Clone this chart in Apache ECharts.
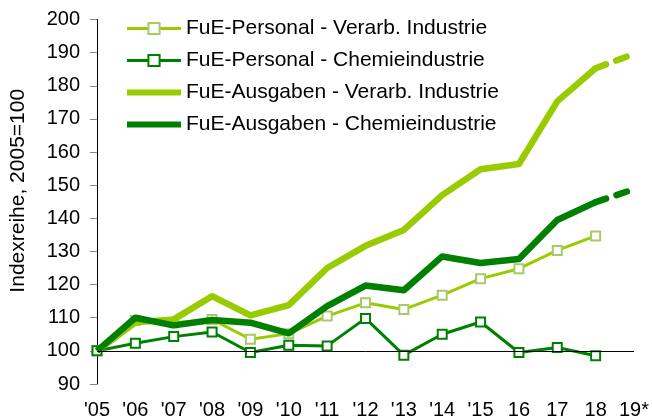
<!DOCTYPE html>
<html>
<head>
<meta charset="utf-8">
<script src="https://cdn.jsdelivr.net/npm/echarts@6/dist/echarts.min.js"></script>
<style>
html, body { margin: 0; padding: 0; background: #fff; }
#chart { width: 652px; height: 420px; }
</style>
</head>
<body>
<div id="chart"></div>
<script>
// Jahre / Achsenbeschriftung
var years = ["'05", "'06", "'07", "'08", "'09", "'10", "'11", "'12", "'13", "'14", "'15", "16", "17", "18", "19*"];

// Indexwerte, 2005 = 100
var personalVerarb = [100, 109.2, 108.5, 109.5, 103.5, 105.2, 110.5, 114.5, 112.5, 116.8, 121.8, 124.8, 130.3, 134.7, null];
var personalChemie = [100, 102.3, 104.3, 105.7, 99.5, 101.7, 101.5, 109.8, 98.7, 105, 108.7, 99.5, 101, 98.5, null];
var ausgabenVerarb = [100, 108.6, 109.5, 116.5, 110.7, 113.8, 125, 131.7, 136.5, 147, 154.8, 156.4, 175.3, 185.3, 189.6];
var ausgabenChemie = [100, 110, 107.7, 109.3, 108.5, 105.3, 113.5, 119.7, 118.3, 128.5, 126.5, 127.7, 139.5, 144.9, 148.8];

var names = [
	'FuE-Personal - Verarb. Industrie',
	'FuE-Personal - Chemieindustrie',
	'FuE-Ausgaben - Verarb. Industrie',
	'FuE-Ausgaben - Chemieindustrie'
];

var hellgruen = '#99cc00';
var dunkelgruen = '#008000';
var font = 'Liberation Sans, Arial, sans-serif';

//solider Teil bis 2018, gestrichelt 2018-2019
function solidPart(arr) {
	var res = arr.slice();
	res[res.length - 1] = null;
	return res;
}
function dashPart(arr) {
	var res = [];
	for (var i = 0; i < arr.length; i++) {
		res.push(i >= arr.length - 2 ? arr[i] : null);
	}
	return res;
}

var chart = echarts.init(document.getElementById('chart'));

var option = {
	animation: false,
	textStyle: { fontFamily: font },
	grid: {
		left: 93,
		right: 15,
		top: 19.5,
		bottom: 35.5
	},
	legend: {
		orient: 'vertical',
		left: 119,
		top: 13,
		itemWidth: 54,
		itemHeight: 14,
		itemGap: 11,
		textStyle: { fontSize: 21, color: '#000', fontFamily: font },
		data: [
			{ name: names[0], lineStyle: { width: 3 }, itemStyle: { color: '#fff', borderColor: '#a8c86a', borderWidth: 2 } },
			{ name: names[1], lineStyle: { width: 3 }, itemStyle: { color: '#fff', borderColor: dunkelgruen, borderWidth: 2 } },
			{ name: names[2], lineStyle: { width: 6 }, itemStyle: { opacity: 0 } },
			{ name: names[3], lineStyle: { width: 6 }, itemStyle: { opacity: 0 } }
		]
	},
	xAxis: {
		type: 'category',
		data: years,
		boundaryGap: false,
		axisLine: { show: false },
		axisTick: { show: false },
		axisLabel: { interval: 0, fontSize: 20, color: '#000', margin: 16, fontFamily: font }
	},
	yAxis: {
		type: 'value',
		min: 90,
		max: 200,
		interval: 10,
		name: 'Indexreihe, 2005=100',
		nameLocation: 'middle',
		nameRotate: 90,
		nameGap: 68,
		nameTextStyle: { fontSize: 21, color: '#000', fontFamily: font, padding: [0, 0, 0, 22] },
		splitLine: { show: false },
		axisLine: { show: true, lineStyle: { color: '#000', width: 1 } },
		axisTick: { show: true, length: 7, lineStyle: { color: '#888' } },
		axisLabel: { fontSize: 20, color: '#000', margin: 17, fontFamily: font }
	},
	series: [
		{
			name: names[0],
			type: 'line',
			z: 2,
			data: personalVerarb,
			symbol: 'rect',
			symbolSize: 9,
			lineStyle: { color: hellgruen, width: 3 },
			itemStyle: { color: '#fff', borderColor: '#a8c86a', borderWidth: 2 },
			markLine: {
				silent: true,
				symbol: 'none',
				label: { show: false },
				lineStyle: { color: '#000', width: 1, type: 'solid' },
				data: [{ yAxis: 100 }]
			}
		},
		{
			name: names[1],
			type: 'line',
			z: 2,
			data: personalChemie,
			symbol: 'rect',
			symbolSize: 9,
			lineStyle: { color: dunkelgruen, width: 3 },
			itemStyle: { color: '#fff', borderColor: dunkelgruen, borderWidth: 2 }
		},
		{
			name: names[2],
			type: 'line',
			z: 3,
			data: solidPart(ausgabenVerarb),
			symbol: 'none',
			lineStyle: { color: hellgruen, width: 6.5, join: 'round' },
			itemStyle: { color: hellgruen }
		},
		{
			name: names[2] + ' Prognose',
			type: 'line',
			z: 3,
			data: dashPart(ausgabenVerarb),
			symbol: 'none',
			lineStyle: { color: hellgruen, width: 6.5, type: [11, 11], cap: 'round' }
		},
		{
			name: names[3],
			type: 'line',
			z: 4,
			data: solidPart(ausgabenChemie),
			symbol: 'none',
			lineStyle: { color: dunkelgruen, width: 6.5, join: 'round' },
			itemStyle: { color: dunkelgruen }
		},
		{
			name: names[3] + ' Prognose',
			type: 'line',
			z: 4,
			data: dashPart(ausgabenChemie),
			symbol: 'none',
			lineStyle: { color: dunkelgruen, width: 6.5, type: [11, 11], cap: 'round' }
		}
	]
};

chart.setOption(option);
</script>
</body>
</html>
